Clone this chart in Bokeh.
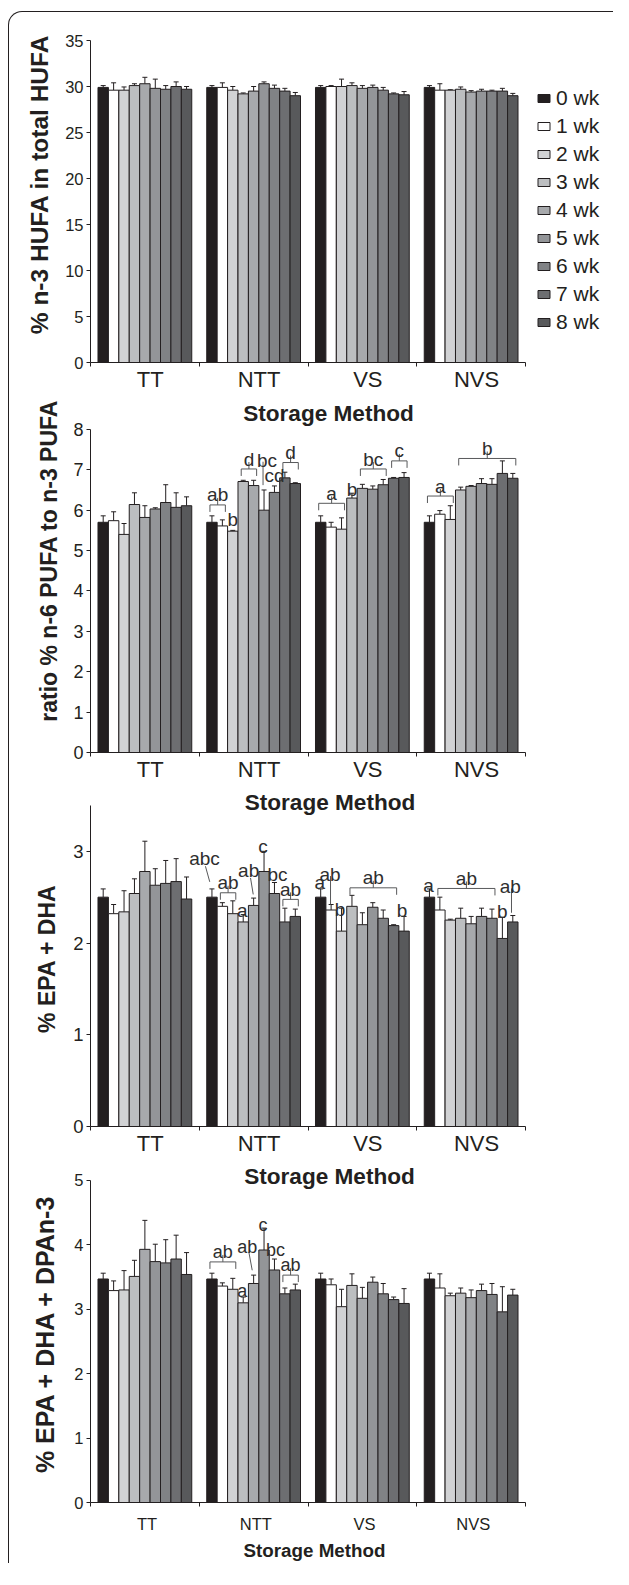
from bokeh.plotting import figure
from bokeh.models import (Range1d, FixedTicker, ColumnDataSource, Whisker, TeeHead,
                          Legend, LegendItem, CustomJSTickFormatter, Label)
from bokeh.layouts import column
from bokeh.embed import file_html
from bokeh.resources import INLINE
from bokeh.core.properties import value

# ---------------- data ----------------
methods = ["TT", "NTT", "VS", "NVS"]
weeks = ["0 wk", "1 wk", "2 wk", "3 wk", "4 wk", "5 wk", "6 wk", "7 wk", "8 wk"]
week_colors = ["#231f20", "#ffffff", "#d1d2d4", "#bcbec0", "#a7a9ac",
               "#939598", "#808285", "#6d6e71", "#58595b"]

# % n-3 HUFA in total HUFA (rows: TT, NTT, VS, NVS; columns: 0..8 wk)
hufa_mean = [
    [29.9, 29.6, 29.6, 30.1, 30.3, 29.8, 29.7, 30.0, 29.7],
    [29.9, 29.9, 29.6, 29.2, 29.5, 30.3, 29.8, 29.5, 29.0],
    [29.9, 30.0, 30.0, 30.1, 29.8, 29.9, 29.6, 29.2, 29.1],
    [29.9, 29.6, 29.6, 29.7, 29.4, 29.5, 29.5, 29.5, 29.0],
]
hufa_err = [
    [0.2, 0.8, 0.35, 0.2, 0.7, 1.0, 0.4, 0.5, 0.3],
    [0.2, 0.5, 0.4, 0.1, 0.5, 0.2, 0.35, 0.3, 0.35],
    [0.2, 0.1, 0.8, 0.3, 0.3, 0.25, 0.3, 0.1, 0.35],
    [0.2, 0.7, 0.05, 0.25, 0.15, 0.2, 0.1, 0.3, 0.25],
]

# ratio % n-6 PUFA to n-3 PUFA
ratio_mean = [
    [5.70, 5.74, 5.40, 6.14, 5.82, 6.03, 6.19, 6.07, 6.11],
    [5.70, 5.61, 5.48, 6.71, 6.61, 6.00, 6.44, 6.80, 6.66],
    [5.70, 5.58, 5.53, 6.30, 6.54, 6.52, 6.63, 6.79, 6.81],
    [5.70, 5.90, 5.77, 6.50, 6.59, 6.66, 6.64, 6.91, 6.79],
]
ratio_err = [
    [0.16, 0.22, 0.27, 0.29, 0.29, 0.03, 0.44, 0.36, 0.22],
    [0.16, 0.15, 0.02, 0.03, 0.13, 0.50, 0.16, 0.14, 0.02],
    [0.16, 0.12, 0.28, 0.12, 0.10, 0.08, 0.13, 0.02, 0.12],
    [0.16, 0.09, 0.34, 0.07, 0.02, 0.12, 0.14, 0.31, 0.12],
]

# % EPA + DHA
epa_mean = [
    [2.50, 2.32, 2.34, 2.54, 2.78, 2.63, 2.65, 2.67, 2.48],
    [2.50, 2.40, 2.32, 2.23, 2.41, 2.78, 2.54, 2.23, 2.29],
    [2.50, 2.36, 2.13, 2.40, 2.20, 2.39, 2.27, 2.19, 2.13],
    [2.50, 2.36, 2.25, 2.27, 2.21, 2.29, 2.27, 2.05, 2.23],
]
epa_err = [
    [0.09, 0.10, 0.23, 0.16, 0.33, 0.18, 0.25, 0.25, 0.24],
    [0.09, 0.04, 0.14, 0.08, 0.08, 0.22, 0.12, 0.15, 0.08],
    [0.09, 0.06, 0.25, 0.12, 0.13, 0.05, 0.09, 0.01, 0.16],
    [0.09, 0.14, 0.01, 0.11, 0.08, 0.09, 0.10, 0.23, 0.07],
]

# % EPA + DHA + DPAn-3
dpa_mean = [
    [3.47, 3.29, 3.30, 3.51, 3.93, 3.74, 3.72, 3.78, 3.54],
    [3.47, 3.36, 3.31, 3.10, 3.40, 3.92, 3.61, 3.24, 3.30],
    [3.47, 3.38, 3.04, 3.37, 3.17, 3.42, 3.24, 3.15, 3.09],
    [3.47, 3.33, 3.21, 3.25, 3.18, 3.29, 3.23, 2.96, 3.22],
]
dpa_err = [
    [0.09, 0.15, 0.30, 0.25, 0.45, 0.27, 0.36, 0.37, 0.34],
    [0.09, 0.05, 0.17, 0.09, 0.13, 0.34, 0.17, 0.09, 0.09],
    [0.09, 0.09, 0.27, 0.18, 0.17, 0.08, 0.16, 0.04, 0.23],
    [0.09, 0.22, 0.04, 0.08, 0.12, 0.10, 0.17, 0.39, 0.09],
]

# significance annotations
# brackets: (method, first week, last week, bracket y, letters)
# letters:  (method, week, letters, baseline y, x shift px)
# leaders:  (method, week, dx0 px, y0, dx1 px, y1)
ratio_brackets = [(1, 0, 1, 6.13, "ab"), (1, 3, 4, 7.02, "d"), (1, 7, 8, 7.18, "d"),
                  (2, 0, 2, 6.17, "a"), (2, 4, 6, 7.02, "bc"), (2, 7, 8, 7.22, "c"),
                  (3, 0, 2, 6.35, "a"), (3, 3, 8, 7.28, "b")]
ratio_letters = [(1, 2, "b", 5.76, 0), (1, 5, "bc", 7.24, 3), (1, 6, "cd", 6.85, 0),
                 (2, 3, "b", 6.52, 0)]
ratio_leaders = [(1, 5, -1, 7.20, -1, 6.62)]

epa_brackets = [(1, 1, 2, 2.548, "ab"), (1, 7, 8, 2.476, "ab"),
                (2, 3, 7, 2.602, "ab"), (3, 1, 6, 2.595, "ab")]
epa_letters = [(1, 0, "abc", 2.92, -7.5), (1, 3, "a", 2.356, -1), (1, 4, "ab", 2.79, -5),
               (1, 5, "c", 3.05, -1), (1, 6, "bc", 2.75, 3), (2, 0, "a", 2.66, -1),
               (2, 1, "ab", 2.75, -1), (2, 2, "b", 2.37, -1.5), (2, 8, "b", 2.356, -2),
               (3, 0, "a", 2.63, -1), (3, 7, "b", 2.34, 0), (3, 8, "ab", 2.62, -2.5)]
epa_leaders = [(1, 0, -6.5, 2.837, -2.2, 2.667), (1, 4, -3.1, 2.71, -0.4, 2.53),
               (2, 1, -0.6, 2.73, -0.6, 2.42), (3, 8, -1.3, 2.595, -1.3, 2.33)]

dpa_brackets = [(1, 0, 2, 3.735, "ab"), (1, 7, 8, 3.53, "ab")]
dpa_letters = [(1, 3, "a", 3.285, -1), (1, 4, "ab", 3.96, -6.4), (1, 5, "c", 4.31, -1),
               (1, 6, "bc", 3.915, 1)]
dpa_leaders = [(1, 4, -4.8, 3.89, -1.4, 3.605)]

y_titles = ["% n-3 HUFA in total HUFA", "ratio % n-6 PUFA to n-3 PUFA",
            "% EPA + DHA", "% EPA + DHA + DPAn-3"]
x_title = "Storage Method"

# ---------------- layout / style ----------------
FONT = "Liberation Sans"
INK = "#231f20"
ANN = "#2e2e2e"
BRK = "#58595b"
FIG_W = 604
LEFT = 81
RIGHT = 2
FRAME_X0 = 90                          # page x of the value axis
PX_X = 435 / 4.0                       # pixels per category
X_END = (FIG_W - LEFT - RIGHT) / PX_X  # frame also holds the legend area
BAR_W = 0.0958
NB = "\u00a0"


def xc(m, j):
    return m + 0.5 + (j - 4) * BAR_W


# ppu = pixels per y unit; frame_h may reach above the top tick (axis bounds stop the line)
specs = [
    dict(top=28, frame_h=323, bottom=31, ppu=323 / 35, axis_max=35,
         yticks=[0, 5, 10, 15, 20, 25, 30, 35], ytick_fs=16.5,
         cat_fs=22, cat_standoff=0, cat_shift=0.05, ann_fs=19,
         ytitle_fs=24.5, ytitle_standoff=9, ytitle_lead=5, ytitle_trail=0),
    dict(top=0, frame_h=359, bottom=31, ppu=40.5, axis_max=8,
         yticks=[0, 1, 2, 3, 4, 5, 6, 7, 8], ytick_fs=18,
         cat_fs=22, cat_standoff=0, cat_shift=0.05, ann_fs=19,
         ytitle_fs=23, ytitle_standoff=8, ytitle_lead=4, ytitle_trail=0),
    dict(top=0, frame_h=343, bottom=31, ppu=92.0, axis_max=3.5,
         yticks=[0, 1, 2, 3], ytick_fs=18.5,
         cat_fs=22, cat_standoff=0, cat_shift=0.05, ann_fs=19,
         ytitle_fs=23, ytitle_standoff=10, ytitle_lead=0, ytitle_trail=1),
    dict(top=0, frame_h=345, bottom=60, ppu=64.6, axis_max=5,
         yticks=[0, 1, 2, 3, 4, 5], ytick_fs=16.5,
         cat_fs=16.5, cat_standoff=8, cat_shift=0.02, ann_fs=18,
         ytitle_fs=25, ytitle_standoff=12, ytitle_lead=0, ytitle_trail=1),
]


def make_panel(mean, err, spec, ytitle):
    y_end = spec["frame_h"] / spec["ppu"]
    p = figure(width=FIG_W, height=spec["top"] + spec["frame_h"] + spec["bottom"],
               output_backend="svg", toolbar_location=None,
               x_range=Range1d(0, X_END), y_range=Range1d(0, y_end),
               min_border_left=LEFT, min_border_right=RIGHT,
               min_border_top=spec["top"], min_border_bottom=spec["bottom"])
    p.outline_line_color = None
    p.xgrid.visible = False
    p.ygrid.visible = False
    p.background_fill_alpha = 0
    p.border_fill_alpha = 0

    bars = []
    for j in range(9):
        src = ColumnDataSource(dict(
            x=[xc(m, j) for m in range(4)],
            top=[mean[m][j] for m in range(4)],
            upper=[mean[m][j] + err[m][j] for m in range(4)]))
        r = p.vbar(x="x", top="top", bottom=0, width=BAR_W, source=src,
                   fill_color=week_colors[j], line_color=INK, line_width=1)
        p.add_layout(Whisker(source=src, base="x", lower="top", upper="upper",
                             dimension="height", line_color=INK, line_width=1,
                             upper_head=TeeHead(size=5, line_color=INK, line_width=1),
                             lower_head=None))
        bars.append(r)

    ax = p.xaxis[0]
    ax.bounds = (0, 4)
    ax.ticker = FixedTicker(ticks=[m + 0.5 + spec["cat_shift"] for m in range(4)],
                            minor_ticks=[0, 1, 2, 3, 4])
    ax.formatter = CustomJSTickFormatter(args=dict(names=methods),
                                         code="return names[Math.floor(tick)];")
    ax.axis_line_color = INK
    ax.major_tick_line_color = None
    ax.major_tick_out = 0
    ax.major_tick_in = 0
    ax.minor_tick_line_color = INK
    ax.minor_tick_out = 4
    ax.minor_tick_in = 0
    ax.major_label_standoff = spec["cat_standoff"]
    ax.major_label_text_font = FONT
    ax.major_label_text_font_size = f"{spec['cat_fs']}px"
    ax.major_label_text_color = INK
    ax.major_label_text_line_height = 1.0

    ay = p.yaxis[0]
    ay.bounds = (0, spec["axis_max"])
    ay.ticker = FixedTicker(ticks=spec["yticks"])
    ay.axis_line_color = INK
    ay.major_tick_line_color = INK
    ay.major_tick_out = 4
    ay.major_tick_in = 0
    ay.minor_tick_line_color = None
    ay.major_label_standoff = 3
    ay.major_label_text_font = FONT
    ay.major_label_text_font_size = f"{spec['ytick_fs']}px"
    ay.major_label_text_color = INK
    # no-break spaces nudge the frame-centred title to where the original has it
    ay.axis_label = NB * spec["ytitle_lead"] + ytitle + NB * spec["ytitle_trail"]
    ay.axis_label_standoff = spec["ytitle_standoff"]
    ay.axis_label_text_font = FONT
    ay.axis_label_text_font_size = f"{spec['ytitle_fs']}px"
    ay.axis_label_text_font_style = "bold"
    ay.axis_label_text_color = INK
    ay.axis_label_text_line_height = 1.0
    return p, bars


def add_gap_title(p, spec, page_cx, page_baseline, frame_bottom_page, size):
    """x-axis title of the panel above, drawn in the top strip of this frame"""
    x = (page_cx - FRAME_X0) / PX_X
    y = (frame_bottom_page - page_baseline) / spec["ppu"]
    p.add_layout(Label(x=x, y=y, text=x_title, text_font=FONT,
                       text_font_size=f"{size}px", text_font_style="bold",
                       text_color=INK, text_align="center", text_baseline="alphabetic"))


def add_annotations(p, spec, brackets, letters, leaders):
    ppu = spec["ppu"]
    xs, ys, tx, ty, tt = [], [], [], [], []
    for (m, a, b, y, t) in brackets:
        x0 = xc(m, a) - 2 / PX_X
        x1 = xc(m, b) + 3 / PX_X
        xm = (x0 + x1) / 2
        d = 7 / ppu
        xs.append([x0, x0, x1, x1]); ys.append([y - d, y, y, y - d])
        xs.append([xm, xm]); ys.append([y, y + d])
        tx.append(xm); ty.append(y + 10 / ppu); tt.append(t)
    for (m, j, t, yb, dx) in letters:
        tx.append(xc(m, j) + dx / PX_X); ty.append(yb); tt.append(t)
    for (m, j, dx0, y0, dx1, y1) in leaders:
        xs.append([xc(m, j) + dx0 / PX_X, xc(m, j) + dx1 / PX_X]); ys.append([y0, y1])
    if xs:
        p.multi_line(xs=xs, ys=ys, line_color=BRK, line_width=1)
    if tt:
        p.text(x=tx, y=ty, text=tt, text_font=value(FONT),
               text_font_size=f"{spec['ann_fs']}px", text_color=ANN,
               text_align="center", text_baseline="alphabetic")


data = [(hufa_mean, hufa_err), (ratio_mean, ratio_err), (epa_mean, epa_err), (dpa_mean, dpa_err)]
figs, all_bars = [], []
for (mean, err), s, yt in zip(data, specs, y_titles):
    p, bars = make_panel(mean, err, s, yt)
    figs.append(p); all_bars.append(bars)

add_annotations(figs[1], specs[1], ratio_brackets, ratio_letters, ratio_leaders)
add_annotations(figs[2], specs[2], epa_brackets, epa_letters, epa_leaders)
add_annotations(figs[3], specs[3], dpa_brackets, dpa_letters, dpa_leaders)

# page y of each frame bottom (column starts at y = 12)
frame_bottoms = []
acc = 12
for s in specs:
    frame_bottoms.append(acc + s["top"] + s["frame_h"])
    acc += s["top"] + s["frame_h"] + s["bottom"]

# baselines of the "Storage Method" titles of panels 1-3 (page pixels)
add_gap_title(figs[1], specs[1], 328, 413, frame_bottoms[1], 22.6)
add_gap_title(figs[2], specs[2], 329.5, 802, frame_bottoms[2], 22.6)
add_gap_title(figs[3], specs[3], 329, 1176, frame_bottoms[3], 22.6)

ax4 = figs[3].xaxis[0]
ax4.axis_label = x_title + NB * 14
ax4.axis_label_standoff = 4
ax4.axis_label_text_font = FONT
ax4.axis_label_text_font_size = "18.8px"
ax4.axis_label_text_font_style = "bold"
ax4.axis_label_text_color = INK
ax4.axis_label_text_line_height = 1.0

legend = Legend(items=[LegendItem(label=weeks[j], renderers=[all_bars[0][j]]) for j in range(9)],
                location=(446, 28), orientation="vertical", padding=0, margin=0, spacing=3,
                glyph_width=15, glyph_height=10, label_standoff=5, label_height=25,
                label_text_font=FONT, label_text_font_size="21px", label_text_color=INK,
                border_line_color=None, background_fill_alpha=0)
figs[0].add_layout(legend)

layout = column(*figs, spacing=0, margin=(11, 0, 0, 8),
                styles={"border-left": "1px solid #231f20", "border-top": "1px solid #231f20",
                        "border-top-left-radius": "14px"})

open("out.html", "w").write(file_html(layout, INLINE))
